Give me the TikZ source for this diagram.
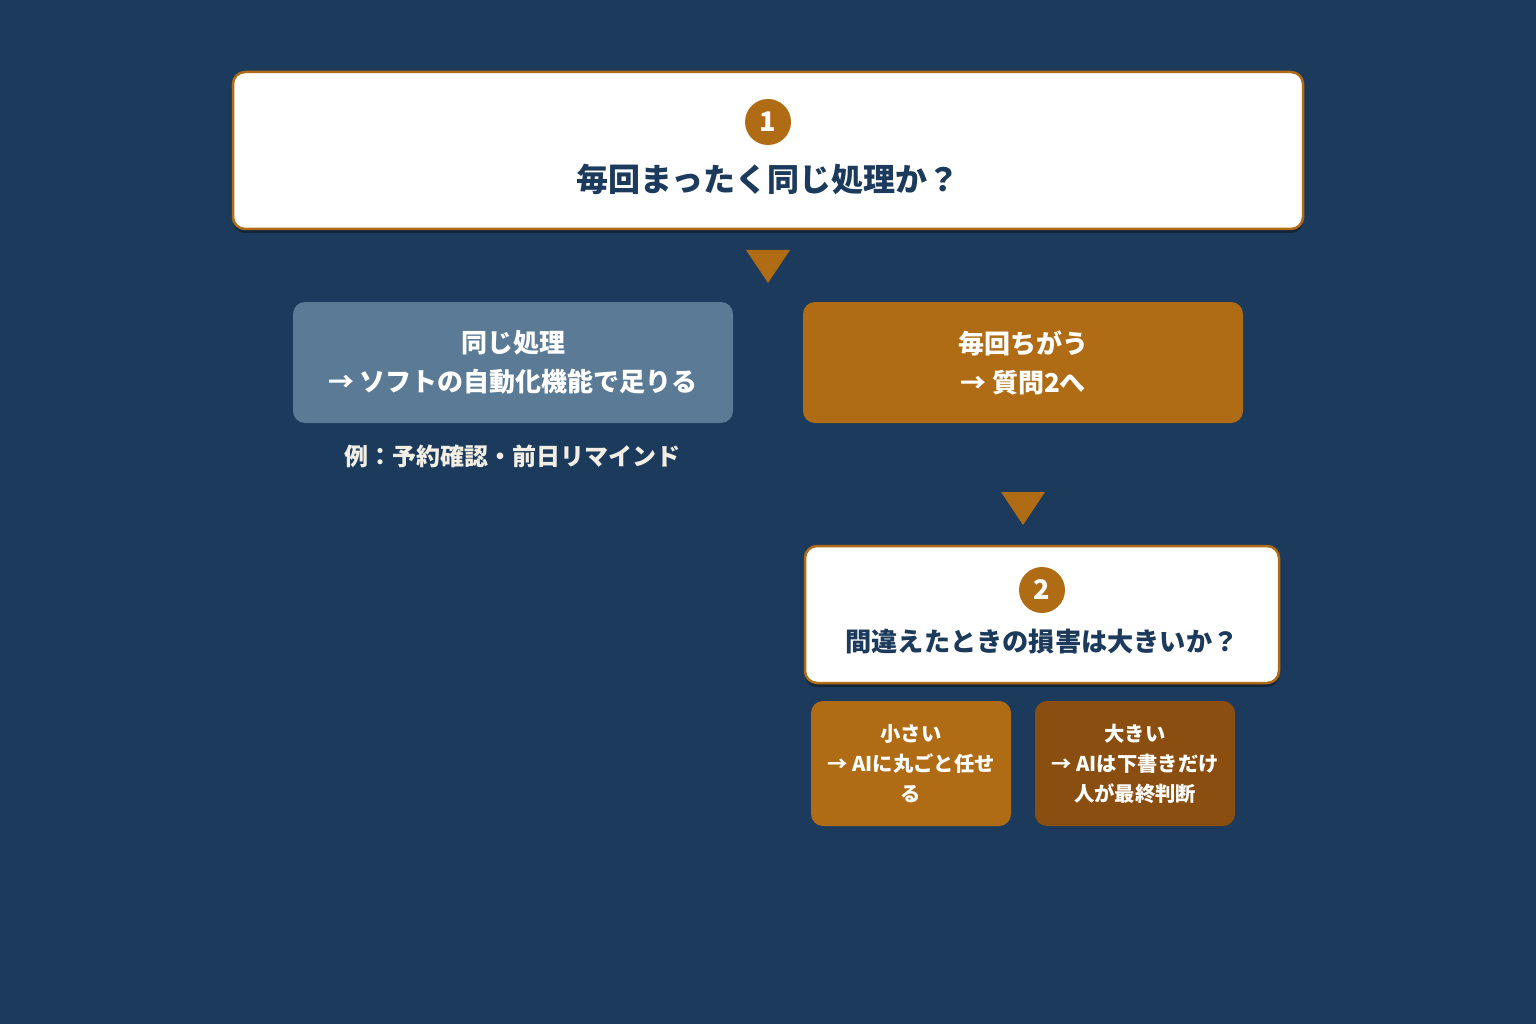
\documentclass[tikz,border=0pt]{standalone}
\usepackage{fontspec}
\setmainfont{Noto Sans CJK JP}
\usetikzlibrary{shadows}
\definecolor{bg}{HTML}{1B3A5C}
\definecolor{org}{HTML}{B06C14}
\definecolor{dorg}{HTML}{8A4E10}
\definecolor{gbl}{HTML}{5B7A96}
\definecolor{cream}{HTML}{F2EEE4}
\definecolor{navy}{HTML}{1B3A5C}
\begin{document}
\begin{tikzpicture}[x=1pt,y=-1pt,
  qbox/.style={draw=org, line width=2.5pt, fill=white, rounded corners=12pt, inner sep=0pt,
     drop shadow={shadow xshift=0pt, shadow yshift=-4pt, opacity=0.35, fill=black}},
  numc/.style={circle, fill=org, minimum size=46pt, inner sep=0pt, text=white,
     font=\bfseries\fontsize{27}{30}\selectfont},
  qtext/.style={text=navy, inner sep=0pt},
  abox/.style={rounded corners=12pt, inner sep=0pt, text=white, align=center,
     minimum width=440pt, minimum height=121pt, font=\bfseries\fontsize{26}{39}\selectfont},
  sbox/.style={rounded corners=12pt, inner sep=0pt, text=white, align=center,
     minimum width=200pt, minimum height=125pt, font=\bfseries\fontsize{20.3}{30}\selectfont},
  tri/.style={fill=org}
]
\useasboundingbox (0,0) rectangle (1536,1024);
\fill[bg] (0,0) rectangle (1536,1024);

% Question 1
\node[qbox, minimum width=1070pt, minimum height=157pt] (q1) at (768,150.5) {};
\node[numc] (n1) at (768,122) {1};
\node[qtext, font=\bfseries\fontsize{32}{36}\selectfont] (t1) at (768,179) {毎回まったく同じ処理か？};

\fill[tri] (746,250) -- (790,250) -- (768,283) -- cycle;

% Answers to Q1
\node[abox, fill=gbl] (same) at (513,362.5) {同じ処理\\→ ソフトの自動化機能で足りる};
\node[abox, fill=org] (diff) at (1023,362.5) {毎回ちがう\\→ 質問2へ};
\node[text=cream, inner sep=0pt, font=\bfseries\fontsize{24}{30}\selectfont] (ex) at (512,456) {例：予約確認・前日リマインド};

\fill[tri] (1001,492) -- (1045,492) -- (1023,525) -- cycle;

% Question 2
\node[qbox, minimum width=474pt, minimum height=137pt] (q2) at (1042,614.5) {};
\node[numc] (n2) at (1042,590) {2};
\node[qtext, font=\bfseries\fontsize{26.2}{30}\selectfont] (t2) at (1042,642) {間違えたときの損害は大きいか？};

% Answers to Q2
\node[sbox, fill=org] (small) at (911,763.5) {小さい\\→ AIに丸ごと任せ\\る};
\node[sbox, fill=dorg] (big) at (1135,763.5) {大きい\\→ AIは下書きだけ\\人が最終判断};
\end{tikzpicture}
\end{document}
